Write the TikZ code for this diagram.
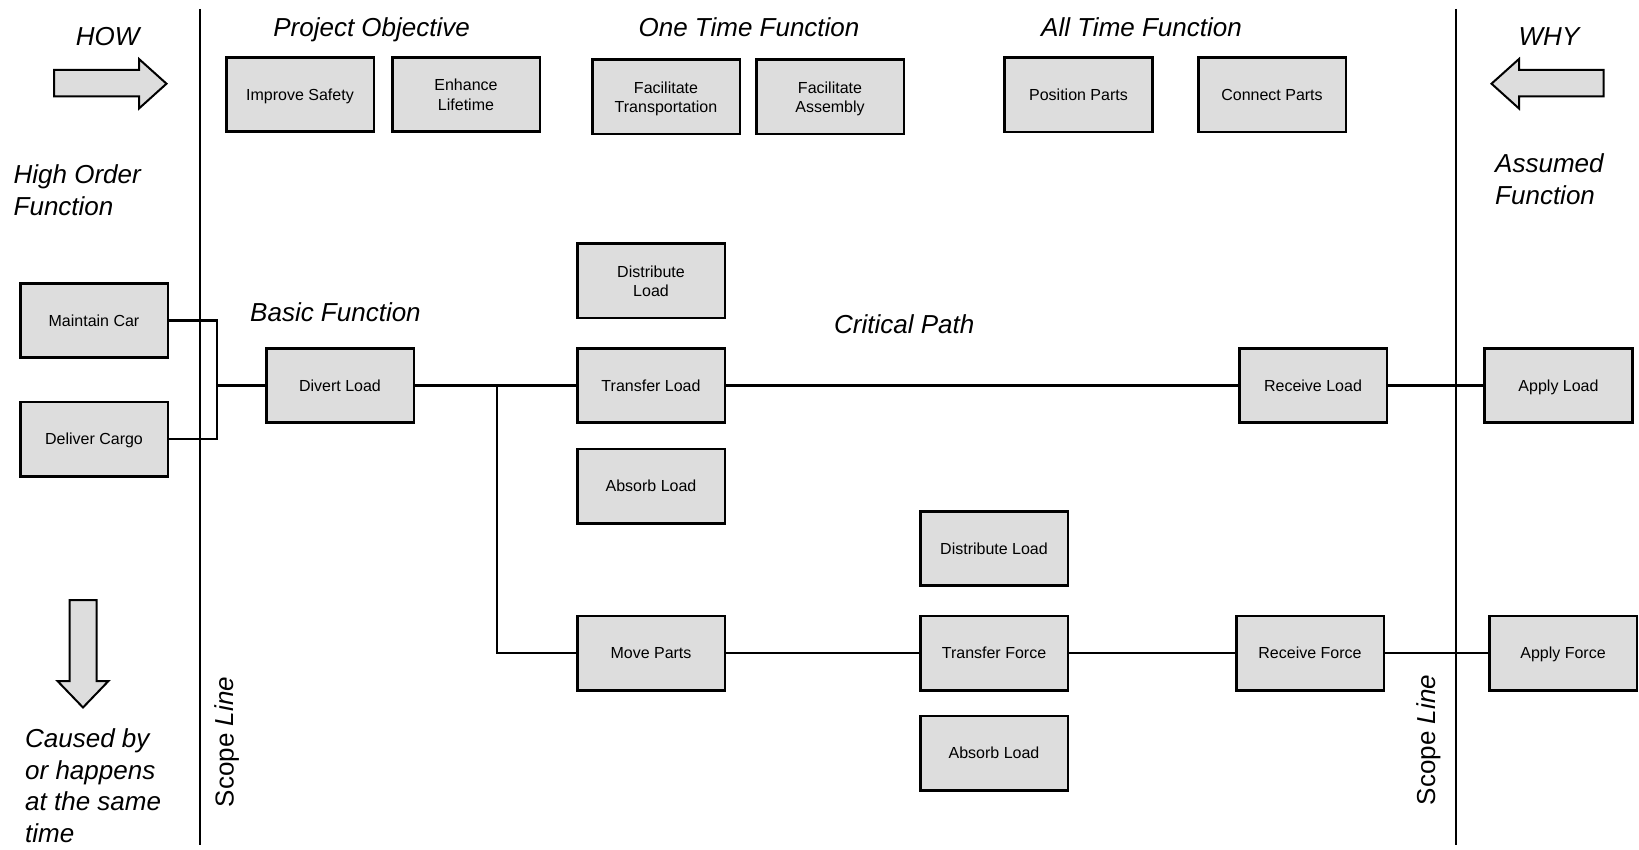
\documentclass[tikz,border=0pt]{standalone}
\usepackage{fontspec}
\setmainfont{Liberation Sans}
\definecolor{boxgray}{HTML}{DDDDDD}
\tikzset{
  fbox/.style={draw=black, line width=2.8pt, fill=boxgray, minimum width=147.8pt,
    minimum height=74.2pt, inner sep=0pt, align=center, text depth=0pt,
    font=\fontsize{16}{19.5}\selectfont},
  heading/.style={font=\fontsize{26}{31}\selectfont\itshape, inner sep=0pt},
  wire/.style={line width=2.4pt},
  scopeline/.style={line width=2.4pt},
  bigarrow/.style={draw=black, fill=boxgray, line width=2pt, line join=miter},
}
\begin{document}
\begin{tikzpicture}[x=1pt,y=-1pt]
\useasboundingbox (0,0) rectangle (1639,850);

% scope lines
\draw[scopeline] (200,9) -- (200,845);
\draw[scopeline] (1456,9) -- (1456,845);

% direction arrows
\draw[bigarrow] (54,70) -- (139,70) -- (139,59) -- (166.5,83.7) -- (139,108.5)
  -- (139,96.5) -- (54,96.5) -- cycle;
\draw[bigarrow] (1603.5,70) -- (1519,70) -- (1519,59) -- (1491.5,83.7) -- (1519,108.5)
  -- (1519,96.5) -- (1603.5,96.5) -- cycle;
\draw[bigarrow] (69.5,600) -- (96.5,600) -- (96.5,681) -- (108.5,681) -- (83,707.5)
  -- (57.5,681) -- (69.5,681) -- cycle;

% headings
\node[heading, anchor=base] (how) at (107.7,46) {HOW};
\node[heading, anchor=base] (why) at (1549,46) {WHY};
\node[heading, anchor=base] (po) at (371.6,36.5) {Project Objective};
\node[heading, anchor=base] (otf) at (749,36.5) {One Time Function};
\node[heading, anchor=base] (atf) at (1141.5,36.5) {All Time Function};
\node[heading, anchor=base west] (hof1) at (13.5,184) {High Order};
\node[heading, anchor=base west] (hof2) at (13.5,215.5) {Function};
\node[heading, anchor=base west] (af1) at (1495,173) {Assumed};
\node[heading, anchor=base west] (af2) at (1495,204.5) {Function};
\node[heading, anchor=base west] (bf) at (250,322) {Basic Function};
\node[heading, anchor=base west] (cp) at (834,333.5) {Critical Path};
\node[heading, anchor=base west] (cb1) at (25,747) {Caused by};
\node[heading, anchor=base west] (cb2) at (25,779) {or happens};
\node[heading, anchor=base west] (cb3) at (25,810) {at the same};
\node[heading, anchor=base west] (cb4) at (25,842) {time};
\node[font=\fontsize{26}{31}\selectfont, inner sep=0pt, rotate=90] (sl1) at (226.8,742) {Scope \textit{Line}};
\node[font=\fontsize{26}{31}\selectfont, inner sep=0pt, rotate=90] (sl2) at (1428.5,740) {Scope \textit{Line}};

% top row
\node[fbox] (is) at (300,94.7) {Improve Safety};
\node[fbox] (el) at (466,94.7) {Enhance\\Lifetime};
\node[fbox] (ft) at (666,97) {Facilitate\\Transportation};
\node[fbox] (fa) at (830,97) {Facilitate\\Assembly};
\node[fbox] (pp) at (1078.5,95) {Position Parts};
\node[fbox] (cpa) at (1272,95) {Connect Parts};

% function tree
\node[fbox] (mc) at (94,320.5) {Maintain Car};
\node[fbox] (dc) at (94,439) {Deliver Cargo};
\node[fbox] (dv) at (340,385.3) {Divert Load};
\node[fbox] (dl1) at (651,281) {Distribute\\Load};
\node[fbox] (tl) at (651,385.3) {Transfer Load};
\node[fbox] (al1) at (651,486) {Absorb Load};
\node[fbox] (rl) at (1313,385.3) {Receive Load};
\node[fbox] (apl) at (1558.5,385.3) {Apply Load};
\node[fbox] (dl2) at (994,548.7) {Distribute Load};
\node[fbox] (mp) at (651,653) {Move Parts};
\node[fbox] (tf) at (994,653) {Transfer Force};
\node[fbox] (al2) at (994,753) {Absorb Load};
\node[fbox] (rf) at (1310,653) {Receive Force};
\node[fbox] (apf) at (1563,653) {Apply Force};

% connectors
\coordinate (jn) at (217,385.3);
\coordinate (br) at (496.7,385.3);
\draw[wire] (mc.east) -| (jn) |- (dc.east);
\draw[wire] (jn) -- (dv.west);
\draw[wire] (dv.east) -- (tl.west);
\draw[wire] (br) |- (mp.west);
\draw[wire] (tl.east) -- (rl.west);
\draw[wire] (rl.east) -- (apl.west);
\draw[wire] (mp.east) -- (tf.west);
\draw[wire] (tf.east) -- (rf.west);
\draw[wire] (rf.east) -- (apf.west);
\end{tikzpicture}
\end{document}
